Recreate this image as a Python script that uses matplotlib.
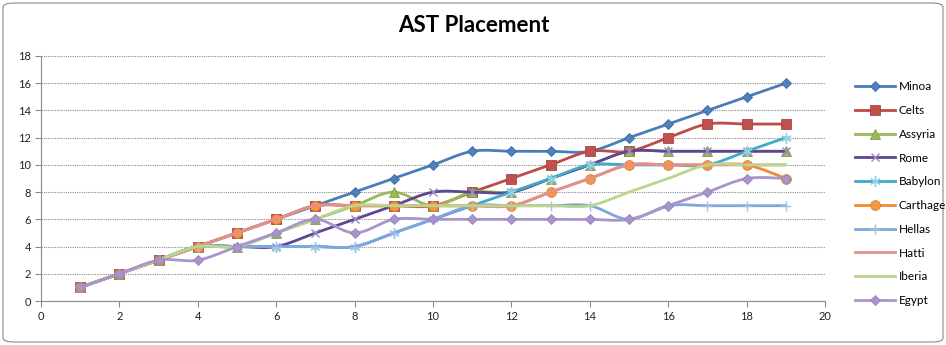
import numpy as np
import matplotlib
matplotlib.use("Agg")
import matplotlib.pyplot as plt
from matplotlib.lines import Line2D
from matplotlib.patches import FancyBboxPatch

# Placement per turn for each civilisation
turns = list(range(1, 20))
minoa    = [1, 2, 3, 4, 5, 6, 7, 8, 9, 10, 11, 11, 11, 11, 12, 13, 14, 15, 16]
celts    = [1, 2, 3, 4, 5, 6, 7, 7, 7, 7, 8, 9, 10, 11, 11, 12, 13, 13, 13]
assyria  = [1, 2, 3, 4, 4, 5, 6, 7, 8, 7, 8, 8, 9, 10, 11, 11, 11, 11, 11]
rome     = [1, 2, 3, 4, 4, 4, 5, 6, 7, 8, 8, 8, 9, 10, 11, 11, 11, 11, 11]
babylon  = [1, 2, 3, 4, 4, 4, 4, 4, 5, 6, 7, 8, 9, 10, 10, 10, 10, 11, 12]
carthage = [1, 2, 3, 4, 5, 6, 7, 7, 7, 7, 7, 7, 8, 9, 10, 10, 10, 10, 9]
hellas   = [1, 2, 3, 4, 4, 4, 4, 4, 5, 6, 7, 7, 7, 7, 6, 7, 7, 7, 7]
hatti    = [1, 2, 3, 4, 5, 6, 7, 7, 7, 7, 7, 7, 8, 9, 10, 10, 10, 10, 10]
iberia   = [1, 2, 3, 4, 4, 5, 6, 7, 7, 7, 7, 7, 7, 7, 8, 9, 10, 10, 10]
egypt    = [1, 2, 3, 3, 4, 5, 6, 5, 6, 6, 6, 6, 6, 6, 6, 7, 8, 9, 9]

names = ["Minoa", "Celts", "Assyria", "Rome", "Babylon",
         "Carthage", "Hellas", "Hatti", "Iberia", "Egypt"]
series = [minoa, celts, assyria, rome, babylon,
          carthage, hellas, hatti, iberia, egypt]

ASTERISK = (6, 2, 0)
# line colour, marker, marker size, marker face colour, marker edge colour
styles = [
    ("#4A7EBB", "D", 5.0, "#4F81BD", "#3A6AA8"),
    ("#BE4B48", "s", 6.5, "#C0504D", "#A84440"),
    ("#98B954", "^", 6.5, "#9BBB59", "#7F9E45"),
    ("#5E4690", "x", 6.0, "#9A86C0", "#9A86C0"),
    ("#3FA9C9", ASTERISK, 7.5, "#8FD3EA", "#8FD3EA"),
    ("#F08A2E", "o", 7.0, "#F79646", "#E07F2C"),
    ("#7FA6DA", "+", 6.5, "#A7BEE6", "#A7BEE6"),
    ("#E09090", None, 0, None, None),
    ("#BAD68A", None, 0, None, None),
    ("#A995CC", "D", 5.0, "#A995CC", "#9582BD"),
]
THIN = ("x", "+", ASTERISK)


def smooth(xs, ys, n=24):
    """Catmull-Rom curve through the points (spreadsheet-style smoothing)."""
    p = np.column_stack([xs, ys]).astype(float)
    p = np.vstack([p[0], p, p[-1]])
    out = []
    t = np.linspace(0, 1, n, endpoint=False)
    for i in range(1, len(p) - 2):
        p0, p1, p2, p3 = p[i - 1], p[i], p[i + 1], p[i + 2]
        c1 = p1 + (p2 - p0) / 6.0
        c2 = p2 - (p3 - p1) / 6.0
        b = ((1 - t) ** 3)[:, None] * p1 + (3 * (1 - t) ** 2 * t)[:, None] * c1 \
            + (3 * (1 - t) * t ** 2)[:, None] * c2 + (t ** 3)[:, None] * p2
        out.append(b)
    out.append(p[-2][None, :])
    c = np.vstack(out)
    return c[:, 0], c[:, 1]


W, H = 946, 345
fig = plt.figure(figsize=(W / 100, H / 100), dpi=100)
fig.patch.set_facecolor("white")

# rounded chart-area border
fig.patches.append(FancyBboxPatch((3 / W, 3 / H), 1 - 6 / W, 1 - 6 / H,
                                  boxstyle="round,pad=0,rounding_size=0.012",
                                  transform=fig.transFigure, fill=False,
                                  edgecolor="#8a8a8a", linewidth=0.8))

ax = fig.add_axes([41 / W, 1 - 301 / H, (825 - 41) / W, (301 - 56) / H])
ax.set_xlim(0, 20)
ax.set_ylim(0, 18)
ax.set_xticks(range(0, 21, 2))
ax.set_yticks(range(0, 19, 2))
for s in ("top", "right"):
    ax.spines[s].set_visible(False)
for s in ("left", "bottom"):
    ax.spines[s].set_color("#8a8a8a")
    ax.spines[s].set_linewidth(0.8)
ax.tick_params(axis="both", direction="out", length=4, width=0.8,
               color="#8a8a8a", labelsize=8, labelcolor="#222222", pad=3)
ax.yaxis.grid(True, color="#8c8c8c", linewidth=0.8, linestyle=(0, (1, 1)))
ax.set_axisbelow(True)
for lbl in ax.get_xticklabels() + ax.get_yticklabels():
    lbl.set_fontfamily("Lato")

handles = []
for k, (name, ys, (lc, mk, ms, mf, me)) in enumerate(zip(names, series, styles)):
    sx, sy = smooth(turns, ys)
    ax.plot(sx, sy, color=lc, linewidth=2.0, solid_capstyle="round",
            zorder=3 + k * 0.1)
    mew = 1.0 if mk in THIN else 0.6
    if mk is not None:
        ax.plot(turns, ys, linestyle="none", marker=mk, markersize=ms,
                markerfacecolor=mf, markeredgecolor=me, markeredgewidth=mew,
                zorder=3.05 + k * 0.1)
    handles.append(Line2D([], [], color=lc, linewidth=2.0, marker=mk,
                          markersize=ms, markerfacecolor=mf,
                          markeredgecolor=me, markeredgewidth=mew))

fig.text(474 / W, 1 - 26 / H, "AST Placement", ha="center", va="center",
         fontsize=16, fontweight="bold", family="Lato", color="#000000")

fig.legend(handles, names, loc="upper left",
           bbox_to_anchor=(847 / W, 1 - 73 / H), frameon=False,
           prop={"family": "Lato", "size": 8.5}, handlelength=3.4,
           handletextpad=0.3, labelspacing=1.08, borderpad=0.2)

fig.savefig("out.png", dpi=100, facecolor="white")
